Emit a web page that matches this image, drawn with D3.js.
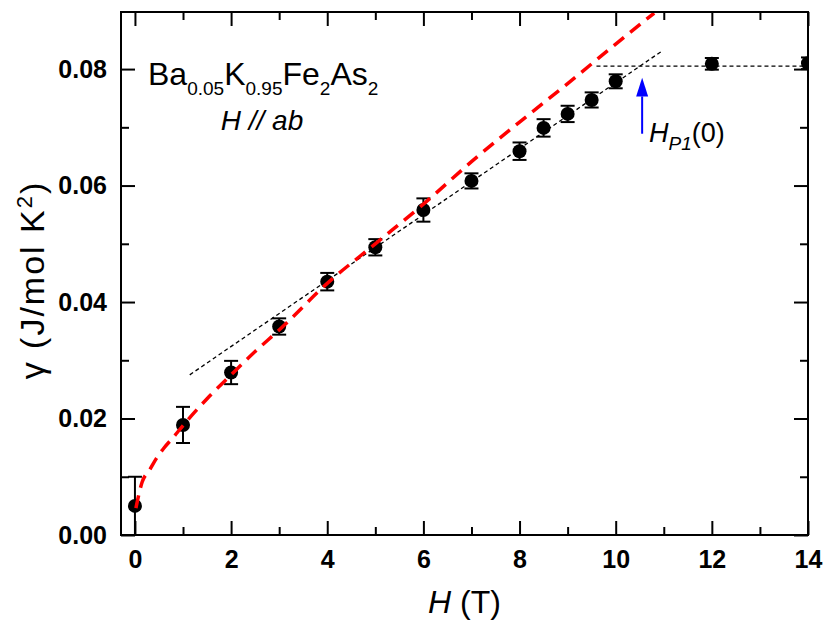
<!DOCTYPE html>
<html>
<head>
<meta charset="utf-8">
<script src="https://cdn.jsdelivr.net/npm/d3@7"></script>
<style>
  body { margin: 0; background: #fff; }
  svg { font-family: Arial, "Liberation Sans", sans-serif; }
</style>
</head>
<body>
<svg id="chart" width="830" height="623"></svg>
<script>
// datos medidos
var fieldH = [0, 1, 2, 3, 4, 5, 6, 7, 8, 8.5, 9, 9.5, 10, 12, 14];
var gammaVal = [0.0050, 0.0189, 0.0279, 0.0358, 0.0435, 0.0494, 0.0558, 0.0608, 0.0659, 0.0699, 0.0723, 0.0747, 0.0779, 0.0809, 0.0810];
var gammaErr = [0.0050, 0.0031, 0.0020, 0.0014, 0.0015, 0.0014, 0.0020, 0.0013, 0.0015, 0.0015, 0.0014, 0.0013, 0.0012, 0.0010, 0.0010];

// curva roja (ajuste)
var fitH = [0.02, 0.15, 0.3, 0.45, 0.6, 0.8, 1, 1.5, 2, 2.5, 3, 4, 5, 6, 7, 8, 9, 10, 10.8];
var fitGamma = [0.0046, 0.0091, 0.0111, 0.0132, 0.0149, 0.0168, 0.0188, 0.0234, 0.0275, 0.0315, 0.0352, 0.0432, 0.0500, 0.0568, 0.0641, 0.0709, 0.0775, 0.0843, 0.0896];

// lineas punteadas
var slopeH = [1.14, 10.98];
var slopeGamma = [0.0275, 0.0832];
var plateauH = [9.6, 14];
var plateauGamma = [0.0805, 0.0805];

// flecha H_P1(0)
var arrowH = 10.55;
var arrowGamma = [0.0689, 0.0753, 0.0785]; // cola, base de la punta, punta

var xMajor = [0, 2, 4, 6, 8, 10, 12, 14];
var xMinor = [1, 3, 5, 7, 9, 11, 13];
var yMajor = [0, 0.02, 0.04, 0.06, 0.08];
var yMinor = [0.01, 0.03, 0.05, 0.07];

var svg = d3.select("#chart");
var mLeft = 121, mRight = 808, mTop = 12, mBottom = 535;

var x = d3.scaleLinear().domain([-0.29, 14]).range([mLeft, mRight]);
var y = d3.scaleLinear().domain([0, 0.0898]).range([mBottom, mTop]);

svg.append("clipPath").attr("id", "plotClip")
    .append("rect")
    .attr("x", mLeft).attr("y", mTop)
    .attr("width", mRight - mLeft).attr("height", mBottom - mTop);

// ejes: marcas hacia adentro
function styleAxis(g) {
    g.select(".domain").remove();
    g.selectAll(".tick line").attr("stroke", "#000").attr("stroke-width", 2);
    g.selectAll(".tick text")
        .attr("fill", "#000")
        .style("font-size", "25px")
        .style("font-weight", "bold")
        .style("font-family", "Arial, 'Liberation Sans', sans-serif");
}

svg.append("g").attr("transform", "translate(0," + mBottom + ")")
    .call(d3.axisBottom(x).tickValues(xMajor).tickSize(-14).tickPadding(15).tickFormat(d3.format("d")))
    .call(styleAxis);
svg.append("g").attr("transform", "translate(0," + mBottom + ")")
    .call(d3.axisBottom(x).tickValues(xMinor).tickSize(-8).tickFormat(""))
    .call(styleAxis);
svg.append("g").attr("transform", "translate(0," + mTop + ")")
    .call(d3.axisTop(x).tickValues(xMajor).tickSize(-14).tickFormat(""))
    .call(styleAxis);
svg.append("g").attr("transform", "translate(0," + mTop + ")")
    .call(d3.axisTop(x).tickValues(xMinor).tickSize(-8).tickFormat(""))
    .call(styleAxis);

svg.append("g").attr("transform", "translate(" + mLeft + ",0)")
    .call(d3.axisLeft(y).tickValues(yMajor).tickSize(-14).tickPadding(14).tickFormat(d3.format(".2f")))
    .call(styleAxis);
svg.append("g").attr("transform", "translate(" + mLeft + ",0)")
    .call(d3.axisLeft(y).tickValues(yMinor).tickSize(-8).tickFormat(""))
    .call(styleAxis);
svg.append("g").attr("transform", "translate(" + mRight + ",0)")
    .call(d3.axisRight(y).tickValues(yMajor).tickSize(-14).tickFormat(""))
    .call(styleAxis);
svg.append("g").attr("transform", "translate(" + mRight + ",0)")
    .call(d3.axisRight(y).tickValues(yMinor).tickSize(-8).tickFormat(""))
    .call(styleAxis);

var plot = svg.append("g").attr("clip-path", "url(#plotClip)");

// barras de error
var pts = fieldH.map(function (h, i) { return { h: h, g: gammaVal[i], e: gammaErr[i] }; });
plot.selectAll("line.err").data(pts).enter().append("line")
    .attr("x1", function (d) { return x(d.h); })
    .attr("x2", function (d) { return x(d.h); })
    .attr("y1", function (d) { return y(d.g - d.e); })
    .attr("y2", function (d) { return y(d.g + d.e); })
    .attr("stroke", "#000").attr("stroke-width", 2);
[-1, 1].forEach(function (s) {
    plot.selectAll(null).data(pts).enter().append("line")
        .attr("x1", function (d) { return x(d.h) - 7; })
        .attr("x2", function (d) { return x(d.h) + 7; })
        .attr("y1", function (d) { return y(d.g + s * d.e); })
        .attr("y2", function (d) { return y(d.g + s * d.e); })
        .attr("stroke", "#000").attr("stroke-width", 2);
});
plot.selectAll("circle").data(pts).enter().append("circle")
    .attr("cx", function (d) { return x(d.h); })
    .attr("cy", function (d) { return y(d.g); })
    .attr("r", 7)
    .attr("fill", "#000");

var line = d3.line().x(function (d) { return x(d[0]); }).y(function (d) { return y(d[1]); });

plot.append("path").datum(d3.zip(slopeH, slopeGamma))
    .attr("d", line).attr("fill", "none")
    .attr("stroke", "#000").attr("stroke-width", 1.3).attr("stroke-dasharray", "4,3");
plot.append("path").datum(d3.zip(plateauH, plateauGamma))
    .attr("d", line).attr("fill", "none")
    .attr("stroke", "#000").attr("stroke-width", 1.3).attr("stroke-dasharray", "4,3");

plot.append("path").datum(d3.zip(fitH, fitGamma))
    .attr("d", line.curve(d3.curveMonotoneX)).attr("fill", "none")
    .attr("stroke", "#ff0000").attr("stroke-width", 3.5).attr("stroke-dasharray", "13,8");

// marco
svg.append("rect")
    .attr("x", mLeft).attr("y", mTop)
    .attr("width", mRight - mLeft).attr("height", mBottom - mTop)
    .attr("fill", "none").attr("stroke", "#000").attr("stroke-width", 2);

// flecha azul
var ax = x(arrowH);
svg.append("line")
    .attr("x1", ax).attr("x2", ax)
    .attr("y1", y(arrowGamma[0])).attr("y2", y(arrowGamma[1]))
    .attr("stroke", "#0000ff").attr("stroke-width", 2);
svg.append("path")
    .attr("d", "M" + (ax - 6) + "," + y(arrowGamma[1]) + "L" + ax + "," + y(arrowGamma[2]) + "L" + (ax + 6) + "," + y(arrowGamma[1]) + "Z")
    .attr("fill", "#0000ff");

// textos
var formula = svg.append("text").attr("x", 148).attr("y", 85).style("font-size", "32px");
formula.append("tspan").text("Ba");
formula.append("tspan").attr("dy", 10).style("font-size", "19px").text("0.05");
formula.append("tspan").attr("dy", -10).text("K");
formula.append("tspan").attr("dy", 10).style("font-size", "19px").text("0.95");
formula.append("tspan").attr("dy", -10).text("Fe");
formula.append("tspan").attr("dy", 10).style("font-size", "19px").text("2");
formula.append("tspan").attr("dy", -10).text("As");
formula.append("tspan").attr("dy", 10).style("font-size", "19px").text("2");

svg.append("text").attr("x", 262).attr("y", 130)
    .attr("text-anchor", "middle")
    .style("font-size", "28px").style("font-style", "italic")
    .text("H // ab");

var hp = svg.append("text").attr("x", 649).attr("y", 142).style("font-size", "27px");
hp.append("tspan").style("font-style", "italic").text("H");
hp.append("tspan").attr("dy", 8).style("font-size", "19px").style("font-style", "italic").text("P1");
hp.append("tspan").attr("dy", -8).text("(0)");

var xl = svg.append("text").attr("x", (mLeft + mRight) / 2).attr("y", 613)
    .attr("text-anchor", "middle").style("font-size", "32px");
xl.append("tspan").style("font-style", "italic").text("H");
xl.append("tspan").text(" (T)");

var yl = svg.append("text")
    .attr("transform", "translate(44,280) rotate(-90)")
    .attr("text-anchor", "middle").style("font-size", "34px")
    .style("letter-spacing", "2px");
yl.append("tspan").text("γ (J/mol K");
yl.append("tspan").attr("dy", -12).style("font-size", "22px").text("2");
yl.append("tspan").attr("dy", 12).text(")");
</script>
</body>
</html>
